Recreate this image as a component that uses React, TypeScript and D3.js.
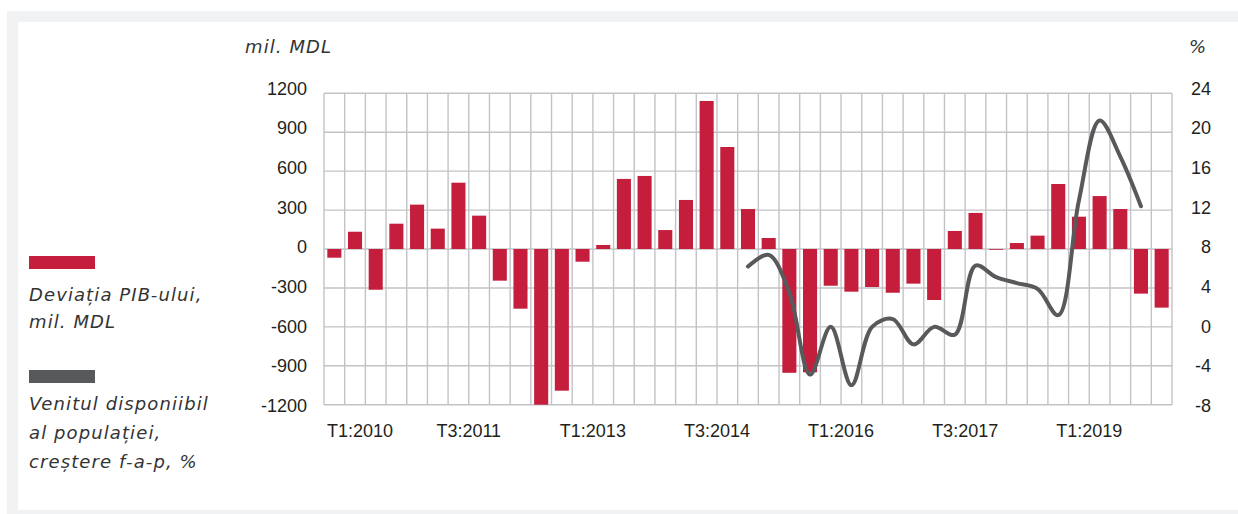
import { useEffect, useRef } from 'react';
import * as d3 from 'd3';

const quarters = [
  'T1:2010', 'T2:2010', 'T3:2010', 'T4:2010',
  'T1:2011', 'T2:2011', 'T3:2011', 'T4:2011',
  'T1:2012', 'T2:2012', 'T3:2012', 'T4:2012',
  'T1:2013', 'T2:2013', 'T3:2013', 'T4:2013',
  'T1:2014', 'T2:2014', 'T3:2014', 'T4:2014',
  'T1:2015', 'T2:2015', 'T3:2015', 'T4:2015',
  'T1:2016', 'T2:2016', 'T3:2016', 'T4:2016',
  'T1:2017', 'T2:2017', 'T3:2017', 'T4:2017',
  'T1:2018', 'T2:2018', 'T3:2018', 'T4:2018',
  'T1:2019', 'T2:2019', 'T3:2019', 'T4:2019',
  'T1:2020',
];

// Deviatia PIB-ului, mil. MDL
const gdpDeviation = [
  -67, 133, -314, 195, 342, 157, 511, 257,
  -244, -460, -1200, -1092, -98, 31, 540, 563,
  146, 378, 1141, 786, 308, 85, -954, -950,
  -283, -329, -293, -337, -267, -393, 139, 278,
  -6, 46, 103, 501, 249, 408, 308, -344,
  -452,
];

// Venitul disponibil al populatiei, crestere f-a-p, %
const incomeGrowth: (number | null)[] = [
  null, null, null, null, null, null, null, null,
  null, null, null, null, null, null, null, null,
  null, null, null, null, 6.2, 7.4, 3.5, -4.9,
  0.0, -6.0, 0.0, 0.8, -1.8, 0.0, -0.8, 6.3,
  5.1, 4.5, 3.9, 1.2, 13.0, 21.2, 17.5, 12.4,
  null,
];

const leftTicks = [-1200, -900, -600, -300, 0, 300, 600, 900, 1200];
const rightTicks = [-8, -4, 0, 4, 8, 12, 16, 20, 24];
const xLabels = ['T1:2010', 'T3:2011', 'T1:2013', 'T3:2014', 'T1:2016', 'T3:2017', 'T1:2019'];

const BAR = '#c41e3c';
const LINE = '#58595b';
const GRID = '#c3c3c7';
const TEXT = '#231f20';
const tickFont = '"Liberation Sans", Arial, sans-serif';
const italicFont = '"DejaVu Sans", "Open Sans", sans-serif';

function App() {
  const ref = useRef<SVGSVGElement>(null);

  useEffect(() => {
    drawChart();
    // eslint-disable-next-line
  }, []);

  function drawChart() {
    const config = { width: 1238, height: 514, left: 324, right: 1172, top: 93.3, bottom: 404.7 };
    const svg = d3.select(ref.current);
    svg.selectAll('*').remove();

    // panel
    svg.append('rect').attr('x', 7).attr('y', 11).attr('width', 1231).attr('height', 503).attr('fill', '#f1f2f4');
    svg.append('rect').attr('x', 18).attr('y', 22).attr('width', 1220).attr('height', 488).attr('fill', '#ffffff');

    const xScale = d3.scaleBand<string>()
      .domain(quarters)
      .range([config.left, config.right])
      .paddingInner(0.32)
      .paddingOuter(0.16);
    const step = xScale.step();
    const bw = xScale.bandwidth();

    const yLeft = d3.scaleLinear().domain([-1200, 1200]).range([config.bottom, config.top]);
    const yRight = d3.scaleLinear().domain([-8, 24]).range([config.bottom, config.top]);
    // tick labels sit slightly wider apart than the grid in the original
    const yLabel = d3.scaleLinear().domain([-1200, 1200]).range([405.8, 88.3]);
    const yLabelR = d3.scaleLinear().domain([-8, 24]).range([405.8, 88.3]);

    const grid = svg.append('g');
    grid.selectAll('line.v')
      .data(d3.range(quarters.length + 1))
      .join('line')
      .attr('class', 'v')
      .attr('x1', i => config.left + i * step)
      .attr('x2', i => config.left + i * step)
      .attr('y1', config.top)
      .attr('y2', config.bottom)
      .attr('stroke', GRID)
      .attr('stroke-width', 1.4);
    grid.selectAll('line.h')
      .data(leftTicks)
      .join('line')
      .attr('class', 'h')
      .attr('x1', config.left)
      .attr('x2', config.right)
      .attr('y1', d => yLeft(d))
      .attr('y2', d => yLeft(d))
      .attr('stroke', GRID)
      .attr('stroke-width', 1.4);

    svg.append('g')
      .selectAll('rect')
      .data(gdpDeviation)
      .join('rect')
      .attr('x', (d, i) => xScale(quarters[i]) as number)
      .attr('width', bw)
      .attr('y', d => yLeft(Math.max(0, d)))
      .attr('height', d => Math.abs(yLeft(d) - yLeft(0)))
      .attr('fill', BAR);

    const line = d3.line<number | null>()
      .defined(d => d != null)
      .x((d, i) => (xScale(quarters[i]) as number) + bw / 2)
      .y(d => yRight(d as number))
      .curve(d3.curveCatmullRom.alpha(0.5));

    svg.append('path')
      .datum(incomeGrowth)
      .attr('d', line)
      .attr('fill', 'none')
      .attr('stroke', LINE)
      .attr('stroke-width', 4)
      .attr('stroke-linecap', 'round')
      .attr('stroke-linejoin', 'round');

    // axis labels
    svg.append('g')
      .selectAll('text')
      .data(leftTicks)
      .join('text')
      .attr('x', 307)
      .attr('y', d => yLabel(d))
      .attr('dy', '0.35em')
      .attr('text-anchor', 'end')
      .style('font-family', tickFont)
      .style('font-size', '18px')
      .attr('fill', TEXT)
      .text(d => d);

    svg.append('g')
      .selectAll('text')
      .data(rightTicks)
      .join('text')
      .attr('x', 1211)
      .attr('y', d => yLabelR(d))
      .attr('dy', '0.35em')
      .attr('text-anchor', 'end')
      .style('font-family', tickFont)
      .style('font-size', '18px')
      .attr('fill', TEXT)
      .text(d => d);

    svg.append('g')
      .selectAll('text')
      .data(xLabels)
      .join('text')
      .attr('x', d => Math.max((xScale(d) as number) + bw / 2 + step / 2, config.left + 36))
      .attr('y', 437)
      .attr('text-anchor', 'middle')
      .style('font-family', tickFont)
      .style('font-size', '18px')
      .attr('fill', TEXT)
      .text(d => d);

    const italic = (x: number, y: number, t: string) =>
      svg.append('text')
        .attr('x', x)
        .attr('y', y)
        .style('font-family', italicFont)
        .style('font-style', 'italic')
        .style('font-size', '18px')
        .style('letter-spacing', '1.1px')
        .attr('fill', '#333333')
        .text(t);

    italic(245, 53, 'mil. MDL');
    italic(1189, 53, '%');

    // legend
    svg.append('rect').attr('x', 29).attr('y', 256).attr('width', 66).attr('height', 13).attr('fill', BAR);
    italic(29, 301, 'Deviația PIB-ului,');
    italic(29, 328, 'mil. MDL');
    svg.append('rect').attr('x', 29).attr('y', 370).attr('width', 66).attr('height', 13).attr('fill', LINE);
    italic(29, 410, 'Venitul disponiibil');
    italic(29, 439, 'al populației,');
    italic(29, 468, 'creștere f-a-p, %');
  }

  return (
    <div style={{ position: 'absolute', left: 0, top: 0 }}>
      <svg ref={ref} width={1238} height={514} style={{ display: 'block' }} />
    </div>
  );
}

export default App;
